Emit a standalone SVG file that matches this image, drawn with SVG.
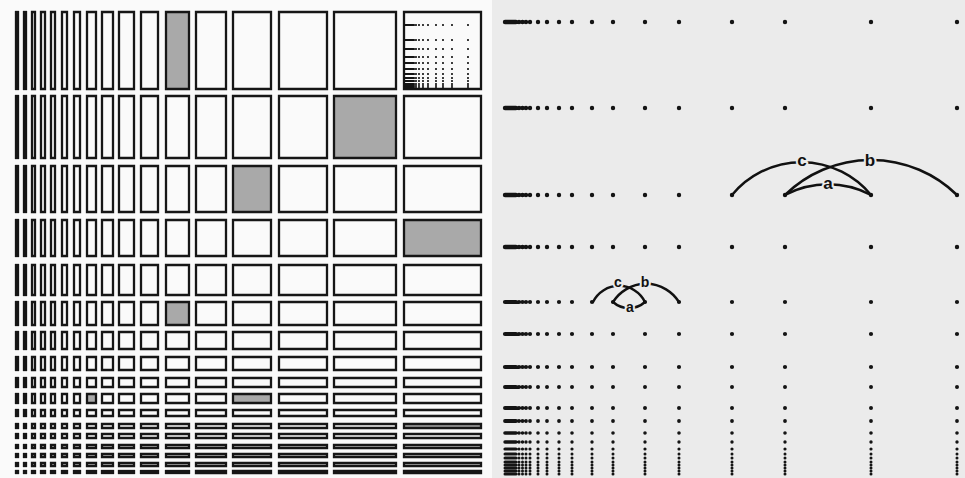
<svg xmlns="http://www.w3.org/2000/svg" xmlns:xlink="http://www.w3.org/1999/xlink" width="965" height="478" viewBox="0 0 965 478">
<style>
.lbl{font-family:"Liberation Sans",Arial,sans-serif;font-weight:bold;fill:#111;text-anchor:middle;paint-order:stroke;stroke:#ebebeb;stroke-width:4px;stroke-linejoin:round}
.arc{fill:none;stroke:#111;stroke-width:2.5;stroke-linecap:round}
.shade{fill:#a9a9a9}
.dots{fill:none;stroke:#141414;stroke-linecap:round}
</style>
<defs>
<g id="row" fill="none" stroke="#161616" stroke-width="2.3">
<rect x="16" y="0" width="2" height="1" vector-effect="non-scaling-stroke"/>
<rect x="24" y="0" width="2" height="1" vector-effect="non-scaling-stroke"/>
<rect x="32" y="0" width="3" height="1" vector-effect="non-scaling-stroke"/>
<rect x="41" y="0" width="4" height="1" vector-effect="non-scaling-stroke"/>
<rect x="51" y="0" width="4" height="1" vector-effect="non-scaling-stroke"/>
<rect x="62" y="0" width="5" height="1" vector-effect="non-scaling-stroke"/>
<rect x="74" y="0" width="6" height="1" vector-effect="non-scaling-stroke"/>
<rect x="87" y="0" width="9" height="1" vector-effect="non-scaling-stroke"/>
<rect x="102" y="0" width="11" height="1" vector-effect="non-scaling-stroke"/>
<rect x="119" y="0" width="15" height="1" vector-effect="non-scaling-stroke"/>
<rect x="141" y="0" width="17" height="1" vector-effect="non-scaling-stroke"/>
<rect x="166" y="0" width="23" height="1" vector-effect="non-scaling-stroke"/>
<rect x="196" y="0" width="30" height="1" vector-effect="non-scaling-stroke"/>
<rect x="233" y="0" width="38" height="1" vector-effect="non-scaling-stroke"/>
<rect x="279" y="0" width="48" height="1" vector-effect="non-scaling-stroke"/>
<rect x="334" y="0" width="62" height="1" vector-effect="non-scaling-stroke"/>
<rect x="404" y="0" width="77" height="1" vector-effect="non-scaling-stroke"/>
</g>
<path id="dotrow" d="M505 0H516M519 0h0M522.5 0h0M526 0h0M530 0h0M538 0h0M547 0h0M559 0h0M572 0h0M592 0h0M613 0h0M645 0h0M679 0h0M732 0h0M785 0h0M871 0h0M957 0h0"/>
<path id="minirow" d="M405 0H414M416 0h0M419 0h0M423 0h0M428 0h0M436 0h0M443 0h0M452 0h0M468 0h0"/>
</defs>

<rect x="0" y="0" width="965" height="478" fill="#fafafa"/>
<rect x="492" y="0" width="473" height="478" fill="#ebebeb"/>

<g id="grid">
<g id="shaded">
<rect class="shade" x="166" y="12" width="23" height="77"/>
<rect class="shade" x="334" y="96" width="62" height="62"/>
<rect class="shade" x="233" y="166" width="38" height="46"/>
<rect class="shade" x="404" y="220" width="77" height="36"/>
<rect class="shade" x="166" y="302" width="23" height="23"/>
<rect class="shade" x="87" y="394" width="9" height="9"/>
<rect class="shade" x="233" y="394" width="38" height="9"/>
<rect class="shade" x="404" y="424" width="77" height="4"/>
</g>
<g id="cells">
<use xlink:href="#row" href="#row" transform="translate(0,12) scale(1,77)"/>
<use xlink:href="#row" href="#row" transform="translate(0,96) scale(1,62)"/>
<use xlink:href="#row" href="#row" transform="translate(0,166) scale(1,46)"/>
<use xlink:href="#row" href="#row" transform="translate(0,220) scale(1,36)"/>
<use xlink:href="#row" href="#row" transform="translate(0,265) scale(1,30)"/>
<use xlink:href="#row" href="#row" transform="translate(0,302) scale(1,23)"/>
<use xlink:href="#row" href="#row" transform="translate(0,332) scale(1,17)"/>
<use xlink:href="#row" href="#row" transform="translate(0,357) scale(1,13)"/>
<use xlink:href="#row" href="#row" transform="translate(0,378) scale(1,9)"/>
<use xlink:href="#row" href="#row" transform="translate(0,394) scale(1,9)"/>
<use xlink:href="#row" href="#row" transform="translate(0,410) scale(1,6)"/>
<use xlink:href="#row" href="#row" transform="translate(0,424) scale(1,4)"/>
<use xlink:href="#row" href="#row" transform="translate(0,434) scale(1,4)"/>
<use xlink:href="#row" href="#row" transform="translate(0,445) scale(1,3)"/>
<use xlink:href="#row" href="#row" transform="translate(0,454) scale(1,3)"/>
<use xlink:href="#row" href="#row" transform="translate(0,463) scale(1,3)"/>
<use xlink:href="#row" href="#row" transform="translate(0,471) scale(1,2)"/>
</g>
<g id="mini" class="dots" stroke-width="2.2">
<use xlink:href="#minirow" href="#minirow" transform="translate(0,25)"/>
<use xlink:href="#minirow" href="#minirow" transform="translate(0,40)"/>
<use xlink:href="#minirow" href="#minirow" transform="translate(0,49)"/>
<use xlink:href="#minirow" href="#minirow" transform="translate(0,57)"/>
<use xlink:href="#minirow" href="#minirow" transform="translate(0,63)"/>
<use xlink:href="#minirow" href="#minirow" transform="translate(0,69)"/>
<use xlink:href="#minirow" href="#minirow" transform="translate(0,74)"/>
<use xlink:href="#minirow" href="#minirow" transform="translate(0,78)"/>
<use xlink:href="#minirow" href="#minirow" transform="translate(0,81)"/>
<use xlink:href="#minirow" href="#minirow" transform="translate(0,84)"/>
<use xlink:href="#minirow" href="#minirow" transform="translate(0,86)"/>
<use xlink:href="#minirow" href="#minirow" transform="translate(0,88)"/>
</g>
</g>

<g id="dotgrid" class="dots">
<use xlink:href="#dotrow" href="#dotrow" stroke-width="4.4" transform="translate(0,22)"/>
<use xlink:href="#dotrow" href="#dotrow" stroke-width="4.4" transform="translate(0,108)"/>
<use xlink:href="#dotrow" href="#dotrow" stroke-width="4.4" transform="translate(0,195)"/>
<use xlink:href="#dotrow" href="#dotrow" stroke-width="4.4" transform="translate(0,247)"/>
<use xlink:href="#dotrow" href="#dotrow" stroke-width="4.2" transform="translate(0,302)"/>
<use xlink:href="#dotrow" href="#dotrow" stroke-width="4.2" transform="translate(0,334)"/>
<use xlink:href="#dotrow" href="#dotrow" stroke-width="4.2" transform="translate(0,367)"/>
<use xlink:href="#dotrow" href="#dotrow" stroke-width="4" transform="translate(0,387)"/>
<use xlink:href="#dotrow" href="#dotrow" stroke-width="4" transform="translate(0,408)"/>
<use xlink:href="#dotrow" href="#dotrow" stroke-width="3.8" transform="translate(0,421)"/>
<use xlink:href="#dotrow" href="#dotrow" stroke-width="3.6" transform="translate(0,433)"/>
<use xlink:href="#dotrow" href="#dotrow" stroke-width="3.4" transform="translate(0,442)"/>
<use xlink:href="#dotrow" href="#dotrow" stroke-width="3.2" transform="translate(0,449)"/>
<use xlink:href="#dotrow" href="#dotrow" stroke-width="3" transform="translate(0,454)"/>
<use xlink:href="#dotrow" href="#dotrow" stroke-width="3" transform="translate(0,458)"/>
<use xlink:href="#dotrow" href="#dotrow" stroke-width="3" transform="translate(0,462)"/>
<use xlink:href="#dotrow" href="#dotrow" stroke-width="3" transform="translate(0,465)"/>
<use xlink:href="#dotrow" href="#dotrow" stroke-width="3" transform="translate(0,468)"/>
<use xlink:href="#dotrow" href="#dotrow" stroke-width="3" transform="translate(0,471)"/>
<use xlink:href="#dotrow" href="#dotrow" stroke-width="3" transform="translate(0,474)"/>
</g>

<g id="connectors">
<path class="arc" d="M732 195A90 90 0 0 1 871 195"/>
<path class="arc" d="M785 195A123 123 0 0 1 957 195"/>
<path class="arc" d="M785 195A92 92 0 0 1 871 195"/>
<path class="arc" d="M593 302A29 29 0 0 1 645 302"/>
<path class="arc" d="M613 302A39 39 0 0 1 679 302"/>
<path class="arc" d="M613 302A24 24 0 0 0 645 302"/>
</g>

<g id="labels">
<text class="lbl" x="802" y="166" font-size="17">c</text>
<text class="lbl" x="870" y="166" font-size="17">b</text>
<text class="lbl" x="828" y="189" font-size="17">a</text>
<text class="lbl" x="618" y="287" font-size="14">c</text>
<text class="lbl" x="645" y="287" font-size="14">b</text>
<text class="lbl" x="630" y="312" font-size="14">a</text>
</g>
</svg>
